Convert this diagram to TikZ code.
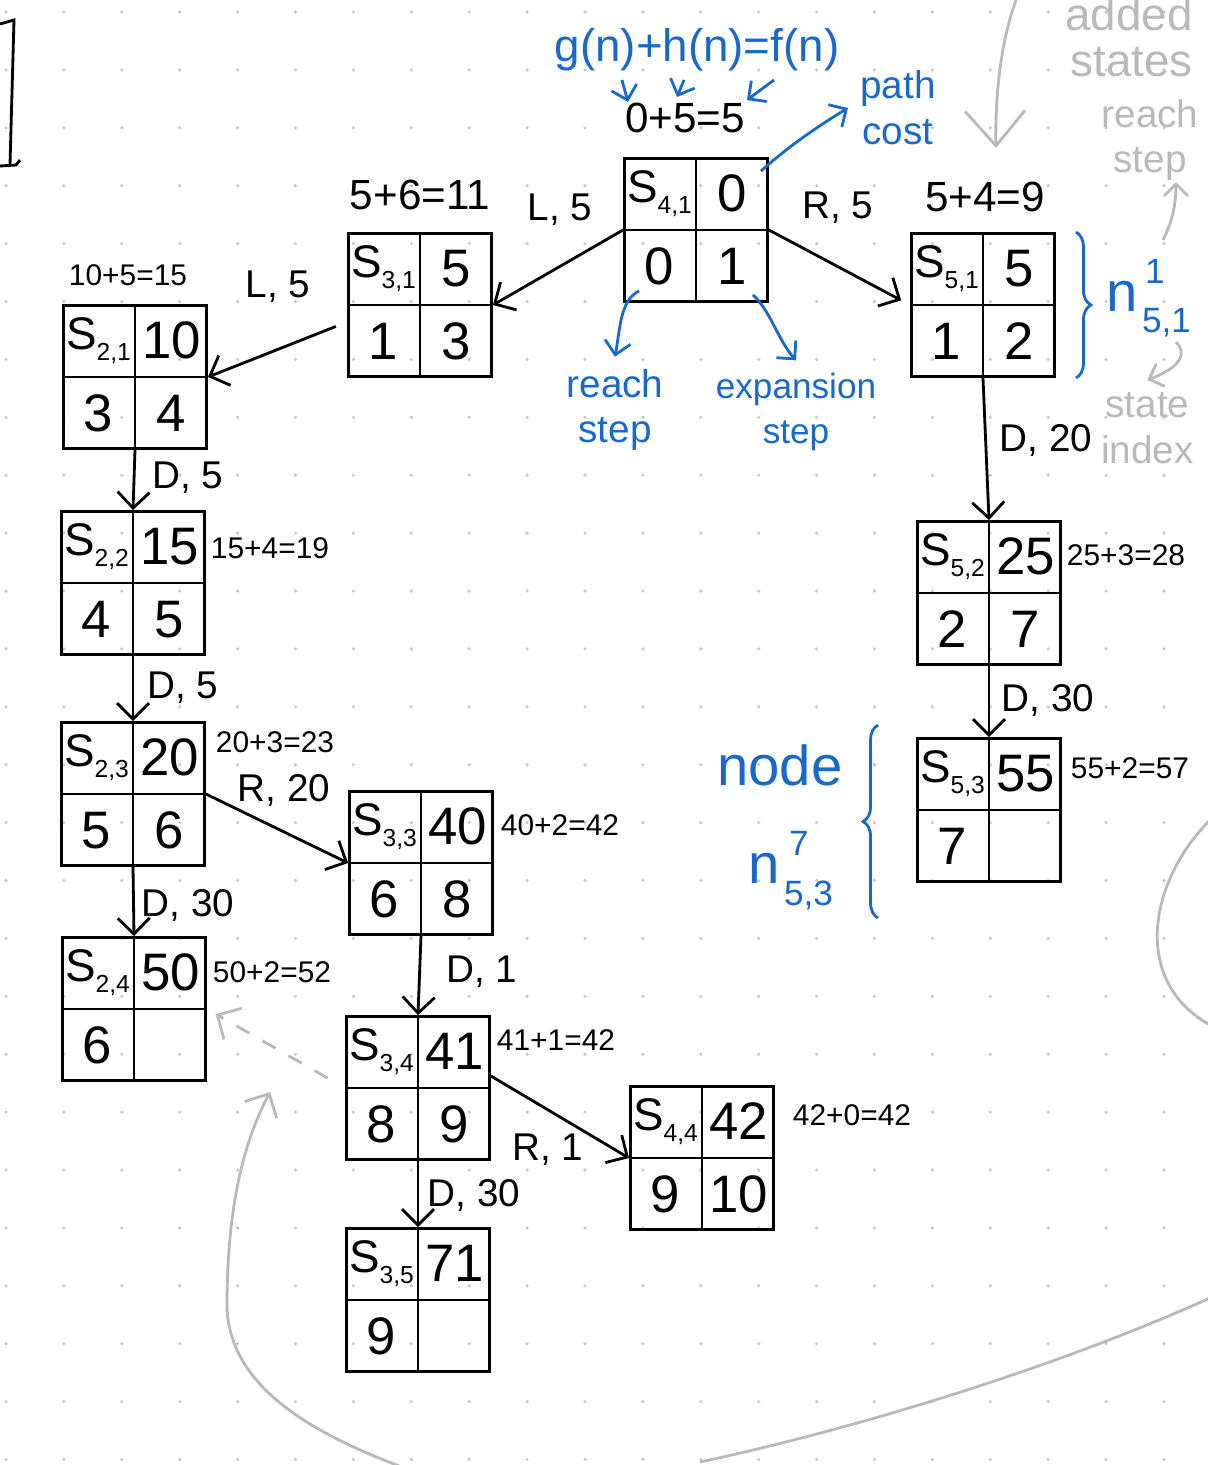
\documentclass[tikz,border=0pt]{standalone}
\usepackage{fontspec}
\setmainfont{Liberation Sans}
\definecolor{noteblue}{RGB}{25,105,205}
\definecolor{notegrey}{RGB}{185,185,185}
\definecolor{dotgrey}{RGB}{200,200,200}
\usetikzlibrary{arrows.meta,positioning,decorations.pathreplacing,calc}

\tikzset{
  cellbox/.style={draw, thick, minimum size=1.43cm, inner sep=0pt},
  celltxt/.style={font=\fontsize{15}{17}\selectfont, inner sep=0pt},
  statelab/.style={font=\fontsize{13}{15}\selectfont, inner sep=0pt},
  edgelab/.style={font=\fontsize{11}{13}\selectfont},
  flab/.style={font=\fontsize{8.5}{10}\selectfont},
  fbig/.style={font=\fontsize{12}{14}\selectfont},
  movearrow/.style={thick, -{Straight Barb[length=1.6mm,width=3.2mm]}},
  bluenote/.style={noteblue, font=\fontsize{11}{13}\selectfont, align=center},
  bluebig/.style={noteblue, font=\fontsize{16}{18}\selectfont, inner sep=0pt},
  bluesmall/.style={noteblue, font=\fontsize{10}{11}\selectfont, inner sep=0pt},
  bluearrow/.style={noteblue, thick, -{Straight Barb[length=1.3mm,width=2.6mm]}},
  greynote/.style={notegrey, font=\fontsize{11}{13}\selectfont, align=center},
  greyarrow/.style={notegrey, thick, -{Straight Barb[length=1.8mm,width=3.6mm]}},
}

% state node: name, position, index, g, reach step, expansion step
\newcommand{\statenode}[6]{%
  \node[cellbox] (#1) at (#2) {};
  \draw[thick] (#1.north) -- (#1.south) (#1.west) -- (#1.east);
  \node[statelab] (#1-s) at ($(#1.center)!0.5!(#1.north west)$)
      {S\raisebox{-0.45ex}{\fontsize{7}{8}\selectfont #3}};
  \node[celltxt] (#1-g) at ($(#1.center)!0.5!(#1.north east)$) {#4};
  \node[celltxt] (#1-r) at ($(#1.center)!0.5!(#1.south west)$) {#5};
  \node[celltxt] (#1-e) at ($(#1.center)!0.5!(#1.south east)$) {#6};
}

\begin{document}
\begin{tikzpicture}[x=0.01cm, y=-0.01cm]
    \useasboundingbox (0,0) rectangle (1208,1465);
    \fill[white] (0,0) rectangle (1208,1465);

    % Dot grid
    \foreach \i in {0,...,20}
      \foreach \j in {0,...,25}
        \fill[dotgrey] (6+57.9*\i, 12+57.9*\j) circle (1.8);

    % Bracket in the corner
    \draw[thick] (0,24) -- (14,20) -- (10,165);
    \draw[thick] (0,166) -- (16,165) -- (20,160);

    % States
    \statenode{S41}{696,230}{4,1}{0}{0}{1}
    \statenode{S31}{420,305}{3,1}{5}{1}{3}
    \statenode{S51}{983,305}{5,1}{5}{1}{2}
    \statenode{S21}{135,377}{2,1}{10}{3}{4}
    \statenode{S22}{133,583}{2,2}{15}{4}{5}
    \statenode{S23}{133,794}{2,3}{20}{5}{6}
    \statenode{S24}{134,1009}{2,4}{50}{6}{}
    \statenode{S33}{421,863}{3,3}{40}{6}{8}
    \statenode{S34}{418,1088}{3,4}{41}{8}{9}
    \statenode{S44}{702,1158}{4,4}{42}{9}{10}
    \statenode{S35}{418,1300}{3,5}{71}{9}{}
    \statenode{S52}{989,593}{5,2}{25}{2}{7}
    \statenode{S53}{989,810}{5,3}{55}{7}{}

    % f = g + h
    \node[fbig] (f41) at (685,118) {0+5=5};
    \node[fbig] (f31) at (420,195) {5+6=11};
    \node[fbig] (f51) at (985,197) {5+4=9};
    \node[flab] (f21) at (128,275) {10+5=15};
    \node[flab] (f22) at (270,548) {15+4=19};
    \node[flab] (f23) at (275,742) {20+3=23};
    \node[flab] (f24) at (272,972) {50+2=52};
    \node[flab] (f33) at (560,825) {40+2=42};
    \node[flab] (f34) at (556,1040) {41+1=42};
    \node[flab] (f44) at (852,1115) {42+0=42};
    \node[flab] (f52) at (1126,555) {25+3=28};
    \node[flab] (f53) at (1130,768) {55+2=57};

    % Moves
    \draw[movearrow] (S41.west) -- (S31.east);
    \draw[movearrow, shorten >=1mm] (S41.east) -- (S51.west);
    \draw[movearrow, shorten <=1.2mm] (S31.west) ++(0,17) -- (S21.east);
    \draw[movearrow] (S21.south) -- (S22.north);
    \draw[movearrow] (S22.south) -- (S23.north);
    \draw[movearrow] (S23.south) -- (S24.north);
    \draw[movearrow] (S23.east) -- (S33.west);
    \draw[movearrow] (S33.south) -- (S34.north);
    \draw[movearrow] (S34.east) ++(0,-12) -- (S44.west);
    \draw[movearrow] (S34.south) -- (S35.north);
    \draw[movearrow] (S51.south) -- (S52.north);
    \draw[movearrow] (S52.south) -- (S53.north);

    \node[edgelab] (m1) at (560,210) {L, 5};
    \node[edgelab] (m2) at (838,208) {R, 5};
    \node[edgelab] (m3) at (278,287) {L, 5};
    \node[edgelab] (m4) at (188,478) {D, 5};
    \node[edgelab] (m5) at (183,688) {D, 5};
    \node[edgelab] (m6) at (188,905) {D, 30};
    \node[edgelab] (m7) at (284,790) {R, 20};
    \node[edgelab] (m8) at (482,972) {D, 1};
    \node[edgelab] (m9) at (548,1150) {R, 1};
    \node[edgelab] (m10) at (474,1195) {D, 30};
    \node[edgelab] (m11) at (1046,440) {D, 20};
    \node[edgelab] (m12) at (1048,700) {D, 30};

    % Blue notes
    \node[noteblue, font=\fontsize{13}{15}\selectfont] (formula) at (697,50) {g(n)+h(n)=f(n)};
    \coordinate (ga) at (622,80);  \coordinate (gb) at (628,102);
    \coordinate (ha) at (684,80);  \coordinate (hb) at (677,97);
    \coordinate (fa) at (774,80);  \coordinate (fb) at (747,100);
    \draw[bluearrow] (ga) -- (gb);
    \draw[bluearrow] (ha) -- (hb);
    \draw[bluearrow] (fa) -- (fb);

    \node[bluenote] (pathcost) at (898,108) {path\\cost};
    \draw[bluearrow] ($(S41.north east)+(-8,14)$) .. controls (790,145) and (820,125) .. (pathcost.west);

    \node[bluenote] (reachstep) at (615,410) {reach\\step};
    \node[bluenote, font=\fontsize{10}{13}\selectfont] (expstep) at (796,412) {expansion\\step};
    \draw[bluearrow] ($(S41.south west)+(16,-12)$) .. controls (620,300) and (620,330) .. (reachstep.north);
    \draw[bluearrow] ($(S41.south east)+(-16,-8)$) .. controls (770,310) and (778,340) .. (expstep.north);

    \draw[noteblue, thick, decorate, decoration={brace, amplitude=1.5mm}]
        ($(S51.north east)+(20,0)$) -- ($(S51.south east)+(20,0)$);
    \node[bluebig] (n51) at (1122,296) {n};
    \node[bluesmall, anchor=south west] (n51sup) at ($(n51.north east)+(6,4)$) {1};
    \node[bluesmall, anchor=north west] (n51sub) at ($(n51.south east)+(3,-4)$) {5,1};

    \draw[noteblue, thick, decorate, decoration={brace, amplitude=1.5mm}]
        ($(S53.south west)+(-38,35)$) -- ($(S53.north west)+(-38,-12)$);
    \node[bluebig] (nodeword) at (780,765) {node};
    \node[bluebig] (n53) at (764,868) {n};
    \node[bluesmall, anchor=south west] (n53sup) at ($(n53.north east)+(8,4)$) {7};
    \node[bluesmall, anchor=north west] (n53sub) at ($(n53.south east)+(3,-4)$) {5,3};

    % Grey notes
    \node[greynote, font=\fontsize{13}{15}\selectfont, anchor=east] (added) at (1205,14) {added};
    \node[greynote, font=\fontsize{13}{15}\selectfont, anchor=east] (states) at (1205,62) {states};
    \coordinate (topa) at (1018,-5);
    \draw[greyarrow, -{Straight Barb[length=3.5mm,width=6mm]}] (topa) .. controls (1000,40) and (995,100) .. (996,148);

    \node[greynote] (greyreach) at (1150,140) {reach\\step};
    \node[greynote, anchor=north east] (greyindex) at (1206,380) {state\\index};
    \coordinate (nsup) at (1163,240);
    \coordinate (nsub) at (1176,342);
    \draw[greyarrow, -{Straight Barb[length=1.2mm,width=2.4mm]}] (nsup) .. controls (1172,222) and (1176,205) .. (1176,182);
    \draw[greyarrow, -{Straight Barb[length=1.2mm,width=2.4mm]}] (nsub) .. controls (1186,352) and (1184,366) .. (greyindex.north);

    \draw[greyarrow, dash pattern=on 1.5mm off 1.5mm, shorten <=2mm, shorten >=1mm] (S34.west) -- (S24.east);

    \coordinate (low) at (410,1470);
    \draw[greyarrow] (low) .. controls (300,1430) and (225,1380) .. (227,1300)
        .. controls (228,1200) and (245,1140) .. (270,1092);
    \draw[notegrey, thick] (700,1462) .. controls (850,1430) and (1050,1370) .. (1210,1298);
    \draw[notegrey, thick] (1210,820) .. controls (1150,880) and (1130,980) .. (1210,1025);
\end{tikzpicture}
\end{document}
